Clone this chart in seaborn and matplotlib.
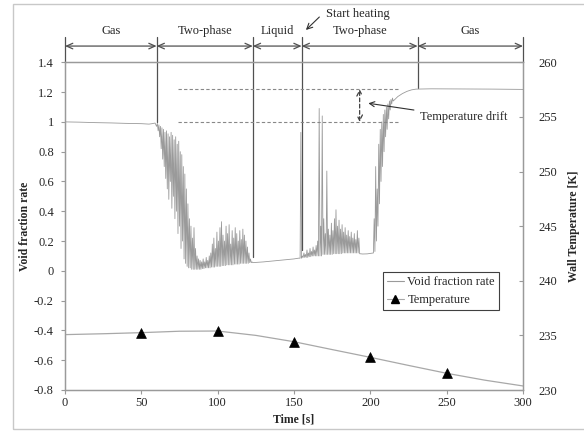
import numpy as np
import pandas as pd
import matplotlib
matplotlib.use("Agg")
import matplotlib.pyplot as plt
from matplotlib.lines import Line2D
from matplotlib.patches import Rectangle
from matplotlib.ticker import FuncFormatter, MultipleLocator
import seaborn as sns

# ---------------- data ----------------
# Void fraction rate: smooth parts (time, value)
gas1_t = [0, 10, 20, 30, 40, 50, 55, 57, 59]
gas1_v = [1.0, 0.998, 0.995, 0.993, 0.99, 0.988, 0.985, 0.988, 0.992]

# noisy two-phase (1), one low/high pair per second starting at 60 s
noisy1_start = 60
noisy1_lo = [.97, .94, .90, .82, .75, .70, .62, .55, .48, .60, .42, .50, .35, .40, .25, .30,
             .15, .20, .08, .05, .03, .02, .02, .01, .01, .01, .01, .01, .01, .01, .015, .015,
             .02, .02, .02, .02, .025, .025, .025, .03, .03, .03, .03, .035, .035, .035, .04,
             .04, .04, .04, .04, .045, .045, .045, .045, .05, .05, .05, .05, .05, .05, .055, .055]
noisy1_hi = [.99, .98, .97, .96, .95, .93, .94, .92, .90, .93, .91, .88, .90, .85, .87, .80,
             .78, .70, .65, .55, .45, .35, .30, .22, .29, .15, .10, .08, .07, .06, .08, .06,
             .09, .07, .10, .12, .18, .22, .15, .26, .20, .29, .33, .24, .20, .30, .25,
             .31, .18, .27, .22, .29, .25, .20, .27, .21, .28, .24, .20, .16, .12, .08, .06]

liquid_t = [123, 130, 140, 150, 153]
liquid_v = [0.055, 0.06, 0.07, 0.08, 0.085]

# noisy two-phase (2), after start of heating
noisy2_start = 154
noisy2_lo = [.085, .085, .09, .09, .09, .09, .095, .095, .10, .10, .10, .10, .10, .10, .10,
             .11, .11, .11, .11, .11, .11, .11, .115, .115, .115, .115, .115, .115, .12, .12,
             .12, .12, .12, .12, .12, .12, .12, .12, .12]
noisy2_hi = [.93, .10, .12, .11, .14, .12, .15, .13, .16, .14, .17, .20, 1.09, .30, 1.04,
             .35, .25, .67, .28, .24, .32, .27, .35, .41, .30, .34, .28, .31, .26, .29,
             .24, .27, .23, .26, .22, .25, .21, .27, .22]

flat_t = [193, 195, 198, 201]
flat_v = [0.115, 0.113, 0.114, 0.118]

# noisy rise back to gas
noisy3_start = 202
noisy3_lo = [.12, .13, .20, .30, .45, .60, .70, .80, .90, .95, 1.02, 1.08, 1.12]
noisy3_hi = [.35, .70, .55, .85, .95, 1.00, 1.05, 1.08, 1.10, 1.12, 1.14, 1.15, 1.16]

gas2_t = [215, 218, 221, 224, 227, 230, 240, 260, 280, 300]
gas2_v = [1.14, 1.17, 1.19, 1.205, 1.215, 1.22, 1.222, 1.221, 1.22, 1.218]

# Wall temperature [K]
temp_t = [0, 25, 50, 75, 100, 125, 150, 175, 200, 225, 250, 275, 300]
temp_v = [235.07, 235.15, 235.25, 235.38, 235.4, 235.0, 234.42, 233.7, 232.99, 232.25,
          231.53, 230.9, 230.37]
marker_t = [50, 100, 150, 200, 250]

# phases
phase_bounds = [0, 60, 123, 155, 231, 300]
phase_names = ["Gas", "Two-phase", "Liquid", "Two-phase", "Gas"]
phase_line_bottom = [1.4, 1.0, 0.09, 0.14, 1.23, 1.4]
drift_levels = [1.0, 1.22]

# ---------------- build series ----------------
def noisy(start, lo, hi):
    t, v = [], []
    for i, (a, b) in enumerate(zip(lo, hi)):
        t += [start + i, start + i + 0.5]
        v += [a, b]
    return t, v

vt, vv = [], []
for seg in [(gas1_t, gas1_v), noisy(noisy1_start, noisy1_lo, noisy1_hi),
            (liquid_t, liquid_v), noisy(noisy2_start, noisy2_lo, noisy2_hi),
            (flat_t, flat_v), noisy(noisy3_start, noisy3_lo, noisy3_hi),
            (gas2_t, gas2_v)]:
    vt += list(seg[0]); vv += list(seg[1])
void_df = pd.DataFrame({"t": vt, "v": vv})
temp_df = pd.DataFrame({"t": temp_t, "T": temp_v})
mark_df = temp_df[temp_df["t"].isin(marker_t)]

# ---------------- style ----------------
sns.set_style("white")
plt.rcParams["font.family"] = ["Liberation Serif", "DejaVu Serif"]
plt.rcParams["axes.unicode_minus"] = False

fig = plt.figure(figsize=(5.84, 4.32), dpi=100)
ax = fig.add_axes([65/584, 1-390/432, (523-65)/584, (390-62.3)/432])
ax2 = ax.twinx()

void_col = "#9a9a9a"
temp_col = "#a8a8a8"
spine_col = "#9a9a9a"
ann_col = "#505050"

sns.lineplot(data=void_df, x="t", y="v", ax=ax, color=void_col, linewidth=0.6,
             estimator=None, sort=False)
sns.lineplot(data=temp_df, x="t", y="T", ax=ax2, color=temp_col, linewidth=0.9,
             estimator=None)
sns.scatterplot(data=mark_df, x="t", y="T", ax=ax2, marker="^", color="black",
                s=50, edgecolor="black", linewidth=0.5, zorder=5)

ax.set_xlim(0, 300)
ax.set_ylim(-0.8, 1.4)
ax2.set_ylim(230, 260)
ax.xaxis.set_major_locator(MultipleLocator(50))
ax.yaxis.set_major_locator(MultipleLocator(0.2))
ax2.yaxis.set_major_locator(MultipleLocator(5))
ax.yaxis.set_major_formatter(FuncFormatter(lambda x, p: f"{round(x, 1):g}"))

ax.set_xlabel("Time [s]", fontsize=8.5, fontweight="bold", labelpad=3)
ax.set_ylabel("Void fraction rate", fontsize=8.5, fontweight="bold", labelpad=2)
ax2.set_ylabel("Wall Temperature [K]", fontsize=8.5, fontweight="bold", labelpad=8)

for a in (ax, ax2):
    for s in a.spines.values():
        s.set_color(spine_col)
        s.set_linewidth(0.9)
ax.tick_params(axis="both", which="major", labelsize=9, length=3, width=0.8,
               color=spine_col, direction="out", left=True, bottom=True)
ax.tick_params(axis="x", pad=2)
ax.tick_params(axis="y", pad=5)
ax2.tick_params(axis="y", labelsize=9, length=3, width=0.8, color=spine_col,
                direction="in", right=True, pad=11)

# ---------------- annotations ----------------
ytop_line = 1.57
yarrow = 1.509
ylabel_ph = 1.61
for t, yb in zip(phase_bounds, phase_line_bottom):
    ax.plot([t, t], [ytop_line, yb], color=ann_col, lw=0.9, clip_on=False, zorder=1)
for i, name in enumerate(phase_names):
    t0, t1 = phase_bounds[i], phase_bounds[i + 1]
    ax.annotate("", xy=(t1, yarrow), xytext=(t0, yarrow), annotation_clip=False,
                arrowprops=dict(arrowstyle="<->,head_length=0.45,head_width=0.2",
                                color=ann_col, lw=0.9, shrinkA=0, shrinkB=0))
    ax.text((t0 + t1) / 2, ylabel_ph, name, ha="center", va="center", fontsize=9,
            clip_on=False)

ax.text(171, 1.724, "Start heating", ha="left", va="center", fontsize=9, clip_on=False)
ax.annotate("", xy=(157.8, 1.617), xytext=(166.6, 1.704), annotation_clip=False,
            arrowprops=dict(arrowstyle="->,head_length=0.4,head_width=0.2",
                            color="#303030", lw=0.8, shrinkA=0, shrinkB=0))

for lvl in drift_levels:
    ax.plot([74, 218], [lvl, lvl], color="#888888", lw=0.8, ls=(0, (3, 2)))
ax.annotate("", xy=(193, drift_levels[1]), xytext=(193, drift_levels[0]),
            arrowprops=dict(arrowstyle="<->,head_length=0.4,head_width=0.2",
                            color="#404040", lw=0.9, ls=(0, (3, 2)), shrinkA=0, shrinkB=0))
ax.annotate("Temperature drift", xy=(198.7, 1.125), xytext=(232.5, 1.03),
            fontsize=9, va="center", ha="left",
            arrowprops=dict(arrowstyle="->,head_length=0.4,head_width=0.2",
                            color="#303030", lw=0.8, shrinkA=2, shrinkB=0))

# legend
handles = [Line2D([], [], color=void_col, lw=0.8, label="Void fraction rate"),
           Line2D([], [], color=temp_col, lw=0.8, marker="^", markersize=5.5,
                  markerfacecolor="black", markeredgecolor="black", label="Temperature")]
leg = ax2.legend(handles=handles, loc="upper left", bbox_to_anchor=((383-65)/458, (390-272)/327.7),
                 fontsize=9, frameon=True, fancybox=False, framealpha=1,
                 edgecolor="#404040", borderaxespad=0, handlelength=1.3,
                 handletextpad=0.3, borderpad=0.35, labelspacing=0.45)
leg.get_frame().set_linewidth(0.8)

# outer frame
fig.add_artist(Rectangle((13/584, 3/432), 1.0, 1 - 7/432, transform=fig.transFigure,
                         fill=False, edgecolor="#c8c8c8", lw=1.0))

fig.savefig("out.png", dpi=100)
